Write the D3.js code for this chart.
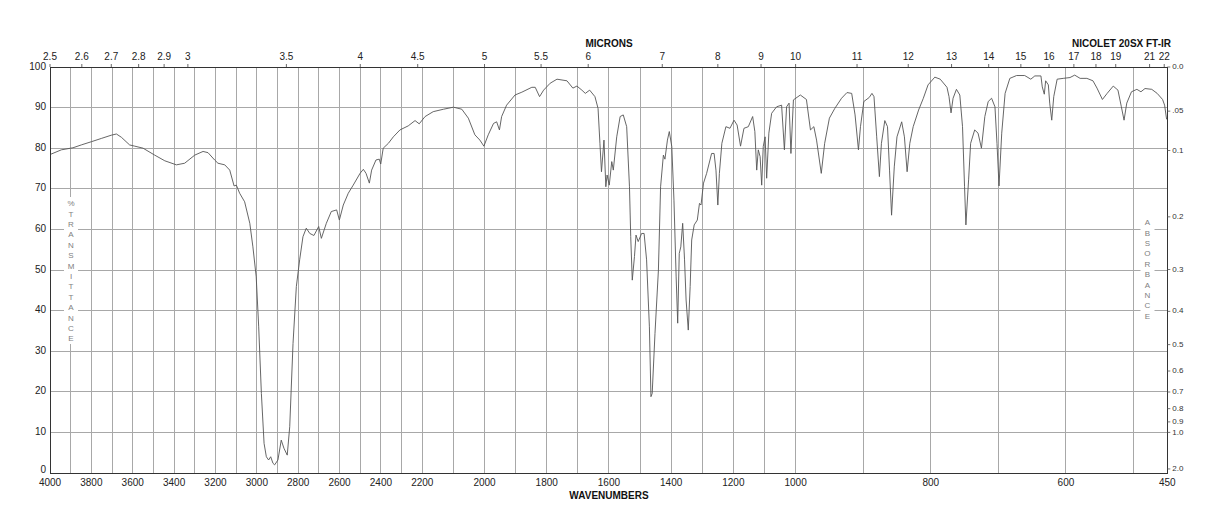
<!DOCTYPE html>
<html>
<head>
<meta charset="utf-8">
<script src="https://cdn.jsdelivr.net/npm/d3@7"></script>
<style>
  html, body { margin: 0; padding: 0; background: #fff; }
  svg text { font-family: "Liberation Sans", Arial, Helvetica, sans-serif; }
</style>
</head>
<body>
<div id="chart"></div>
<script>
// spectrum: wavenumber (cm-1) and % transmittance
const wavenumbers = [
  3997, 3945, 3889, 3849, 3800, 3752, 3704, 3679, 3655, 3615, 3590, 3550, 3494, 3445, 3389, 3349,
  3300, 3260, 3236, 3204, 3188, 3155, 3131, 3110, 3099, 3083, 3059, 3034, 3019, 3003, 2991, 2978,
  2965, 2954, 2943, 2933, 2922, 2914, 2898, 2882, 2869, 2853, 2841, 2825, 2809, 2793, 2777, 2761,
  2744, 2724, 2701, 2688, 2664, 2640, 2614, 2601, 2582, 2558, 2534, 2501, 2485, 2472, 2456, 2445,
  2424, 2408, 2401, 2389, 2364, 2340, 2308, 2268, 2235, 2215, 2191, 2165, 2132, 2100, 2073, 2052,
  2031, 2015, 2002, 1988, 1971, 1961, 1952, 1945, 1929, 1902, 1880, 1848, 1837, 1823, 1810, 1789,
  1767, 1735, 1716, 1703, 1687, 1676, 1662, 1645, 1635, 1629, 1624, 1616, 1610, 1606, 1599, 1591,
  1586, 1575, 1564, 1554, 1543, 1534, 1530, 1525, 1518, 1513, 1506, 1495, 1487, 1479, 1470, 1465,
  1461, 1452, 1441, 1434, 1425, 1420, 1412, 1406, 1398, 1391, 1384, 1379, 1374, 1369, 1363, 1357,
  1352, 1345, 1339, 1334, 1326, 1316, 1309, 1304, 1296, 1286, 1270, 1262, 1256, 1250, 1245, 1237,
  1224, 1211, 1198, 1188, 1177, 1166, 1152, 1138, 1131, 1125, 1120, 1114, 1109, 1104, 1098, 1093,
  1086, 1077, 1061, 1045, 1036, 1029, 1021, 1015, 1007, 993, 984, 978, 973, 969, 962, 957,
  950, 942, 932, 924, 917, 912, 907, 904, 899, 891, 887, 884, 880, 876, 873, 868,
  864, 861, 858, 854, 850, 843, 839, 835, 831, 826, 818, 811, 804, 794, 786, 776,
  773, 770, 767, 762, 757, 753, 750, 748, 744, 741, 735, 730, 725, 720, 715, 710,
  705, 702, 699, 695, 690, 683, 673, 661, 652, 646, 637, 635, 632, 630, 626, 624,
  621, 618, 613, 604, 594, 587, 579, 569, 560, 554, 546, 539, 530, 523, 518, 514,
  510, 503, 495, 489, 483, 473, 465, 457, 454, 451
];
const transmittance = [
  78.5, 79.6, 80.1, 80.8, 81.6, 82.4, 83.2, 83.5, 82.7, 80.8, 80.5, 80.0, 78.3, 76.9, 75.9, 76.3,
  78.3, 79.2, 78.9, 77.1, 76.3, 75.9, 74.6, 70.7, 70.9, 68.9, 66.8, 61.5, 55.7, 48.3, 36.0, 19.6,
  7.3, 4.0, 3.2, 4.0, 2.4, 2.0, 3.2, 8.1, 6.1, 4.4, 11.4, 31.9, 45.9, 52.5, 58.2, 60.3,
  59.0, 58.5, 60.7, 57.8, 61.5, 64.4, 64.8, 62.3, 66.0, 68.9, 70.9, 73.8, 74.8, 73.8, 71.4, 74.6,
  77.1, 77.3, 76.1, 80.0, 81.2, 82.8, 84.5, 85.5, 86.8, 86.0, 87.8, 89.0, 89.6, 90.1, 89.6, 87.4,
  83.3, 82.0, 80.5, 83.3, 86.1, 86.5, 84.5, 87.8, 90.6, 93.1, 93.8, 95.0, 95.0, 92.7, 94.3, 96.0,
  97.0, 96.6, 94.8, 95.3, 94.3, 93.5, 94.3, 92.7, 89.8, 81.2, 74.2, 82.0, 70.5, 73.4, 70.9, 76.7,
  74.6, 82.8, 87.8, 88.2, 85.3, 70.5, 58.2, 47.5, 53.3, 58.6, 57.0, 59.0, 59.0, 52.5, 36.0, 18.8,
  19.6, 34.4, 50.0, 70.5, 78.3, 77.3, 82.0, 84.1, 80.4, 67.2, 48.3, 36.9, 54.1, 55.7, 61.5, 52.5,
  42.6, 35.2, 45.9, 57.4, 61.1, 62.3, 66.4, 66.0, 71.4, 73.8, 78.7, 78.7, 74.6, 66.0, 73.8, 81.2,
  85.3, 84.9, 86.9, 85.7, 80.5, 84.9, 85.3, 87.8, 84.1, 74.6, 79.6, 77.9, 70.9, 80.4, 82.8, 72.6,
  83.7, 88.6, 90.2, 90.6, 79.6, 90.2, 91.1, 78.7, 91.9, 93.1, 92.0, 84.5, 85.3, 82.0, 73.8, 81.2,
  87.4, 89.8, 92.3, 93.7, 93.5, 88.2, 79.6, 85.3, 91.5, 92.5, 93.5, 92.7, 82.8, 73.0, 81.2, 86.8,
  85.3, 74.6, 63.5, 75.4, 82.8, 86.5, 82.8, 74.2, 81.2, 85.3, 89.4, 92.3, 95.6, 97.5, 97.0, 95.0,
  92.7, 88.7, 92.3, 94.5, 93.1, 85.3, 70.5, 61.1, 72.2, 81.2, 84.5, 83.7, 80.0, 87.8, 91.5, 92.3,
  90.2, 81.2, 70.7, 83.7, 93.5, 97.2, 97.9, 97.9, 97.0, 97.8, 97.8, 95.1, 93.3, 96.6, 95.6, 91.1,
  86.9, 92.7, 97.0, 97.2, 97.4, 98.0, 97.2, 97.2, 96.6, 94.8, 92.0, 93.5, 95.3, 94.3, 90.2, 86.9,
  91.1, 93.9, 94.5, 93.9, 94.7, 94.5, 93.5, 92.0, 90.6, 87.1
];

const wavenumberTicks = [4000, 3800, 3600, 3400, 3200, 3000, 2800, 2600, 2400, 2200, 2000,
  1800, 1600, 1400, 1200, 1000, 800, 600, 450];
const gridWavenumbers = [3900, 3800, 3700, 3600, 3500, 3400, 3300, 3200, 3100, 3000, 2900, 2800,
  2700, 2600, 2500, 2400, 2300, 2200, 2100, 2000, 1900, 1800, 1700, 1600, 1500, 1400, 1300, 1200,
  1100, 1000, 900, 800, 700, 600, 500];
const micronTicks = [2.5, 2.6, 2.7, 2.8, 2.9, 3, 3.5, 4, 4.5, 5, 5.5, 6, 7, 8, 9, 10, 11, 12,
  13, 14, 15, 16, 17, 18, 19, 21, 22];
const transmittanceTicks = [0, 10, 20, 30, 40, 50, 60, 70, 80, 90, 100];
const absorbanceTicks = ["0.0", ".05", "0.1", "0.2", "0.3", "0.4", "0.5", "0.6", "0.7", "0.8", "0.9", "1.0", "2.0"];

const W = 1218, H = 528;
const plotLeft = 50, plotRight = 1167.3, plotTop = 67, plotBottom = 473;

const svg = d3.select("#chart").append("svg")
  .attr("width", W).attr("height", H);

// the chart paper changes scale at 2200 and 1000 cm-1
const x = d3.scaleLinear()
  .domain([4000, 2200, 1000, 450])
  .range([plotLeft, 422.3, 795.6, plotRight]);
const y = d3.scaleLinear().domain([0, 100]).range([plotBottom, plotTop]);

const grid = svg.append("g").attr("stroke", "#a8a8a8").attr("stroke-width", 1).attr("shape-rendering", "crispEdges");
grid.selectAll(".vg").data(gridWavenumbers).enter().append("line")
  .attr("x1", d => x(d)).attr("x2", d => x(d))
  .attr("y1", plotTop).attr("y2", plotBottom);
grid.selectAll(".hg").data(transmittanceTicks.slice(1, -1)).enter().append("line")
  .attr("x1", plotLeft).attr("x2", plotRight)
  .attr("y1", d => y(d)).attr("y2", d => y(d));

// white backing for the stacked axis words
svg.append("rect").attr("x", 64).attr("y", 197).attr("width", 14).attr("height", 147).attr("fill", "#fff");
svg.append("rect").attr("x", 1140.5).attr("y", 216).attr("width", 14).attr("height", 108).attr("fill", "#fff");

const stack = (word, cx, y0) => {
  svg.append("g").selectAll("text").data(word.split("")).enter().append("text")
    .attr("x", cx).attr("y", (d, i) => y0 + i * 10.4)
    .attr("text-anchor", "middle").attr("dominant-baseline", "middle")
    .style("font-size", "8px").style("fill", "#808080")
    .text(d => d);
};
stack("%TRANSMITTANCE", 71, 204);
stack("ABSORBANCE", 1147.3, 223);

// spectrum
const points = wavenumbers.map((w, i) => [w, transmittance[i]]);
svg.append("path")
  .datum(points)
  .attr("fill", "none")
  .attr("stroke", "#555")
  .attr("stroke-width", 0.9)
  .attr("d", d3.line().x(d => x(d[0])).y(d => y(d[1])));

// frame
svg.append("rect")
  .attr("x", plotLeft).attr("y", plotTop)
  .attr("width", plotRight - plotLeft).attr("height", plotBottom - plotTop)
  .attr("fill", "none").attr("stroke", "#333").attr("stroke-width", 1)
  .attr("shape-rendering", "crispEdges");

// left axis: % transmittance
svg.append("g").selectAll("text").data(transmittanceTicks).enter().append("text")
  .attr("x", 46).attr("y", d => d === 0 ? y(d) - 2.5 : y(d))
  .attr("text-anchor", "end").attr("dominant-baseline", "middle")
  .style("font-size", "10px").style("fill", "#222")
  .text(d => d);

// right axis: absorbance
const absY = a => y(100 * Math.pow(10, -(+a)));
const rAxis = svg.append("g");
rAxis.selectAll("line").data(absorbanceTicks).enter().append("line")
  .attr("x1", plotRight).attr("x2", plotRight + 3)
  .attr("y1", d => absY(d)).attr("y2", d => absY(d))
  .attr("stroke", "#555").attr("stroke-width", 0.8);
rAxis.selectAll("text").data(absorbanceTicks).enter().append("text")
  .attr("x", plotRight + 5).attr("y", d => absY(d))
  .attr("dominant-baseline", "middle")
  .style("font-size", "8px").style("fill", "#333")
  .text(d => d);

// bottom axis: wavenumbers
svg.append("g").selectAll("text").data(wavenumberTicks).enter().append("text")
  .attr("x", d => x(d)).attr("y", 483.5)
  .attr("text-anchor", "middle").attr("dominant-baseline", "middle")
  .style("font-size", "10px").style("fill", "#222")
  .text(d => d);

// top axis: microns
const tAxis = svg.append("g");
tAxis.selectAll("line").data(micronTicks).enter().append("line")
  .attr("x1", d => x(10000 / d)).attr("x2", d => x(10000 / d))
  .attr("y1", plotTop).attr("y2", plotTop - 3)
  .attr("stroke", "#444").attr("stroke-width", 0.8);
tAxis.selectAll("text").data(micronTicks).enter().append("text")
  .attr("x", d => x(10000 / d)).attr("y", 57.5)
  .attr("text-anchor", "middle").attr("dominant-baseline", "middle")
  .style("font-size", "10px").style("fill", "#222")
  .text(d => d);

svg.append("text").attr("x", 609).attr("y", 44.5)
  .attr("text-anchor", "middle").attr("dominant-baseline", "middle")
  .style("font-size", "10px").style("font-weight", "bold").style("fill", "#111")
  .text("MICRONS");
svg.append("text").attr("x", 1171).attr("y", 44.5)
  .attr("text-anchor", "end").attr("dominant-baseline", "middle")
  .style("font-size", "10px").style("font-weight", "bold").style("fill", "#111")
  .text("NICOLET 20SX FT-IR");
svg.append("text").attr("x", 609).attr("y", 496.5)
  .attr("text-anchor", "middle").attr("dominant-baseline", "middle")
  .style("font-size", "10px").style("font-weight", "bold").style("fill", "#111")
  .text("WAVENUMBERS");
</script>
</body>
</html>
